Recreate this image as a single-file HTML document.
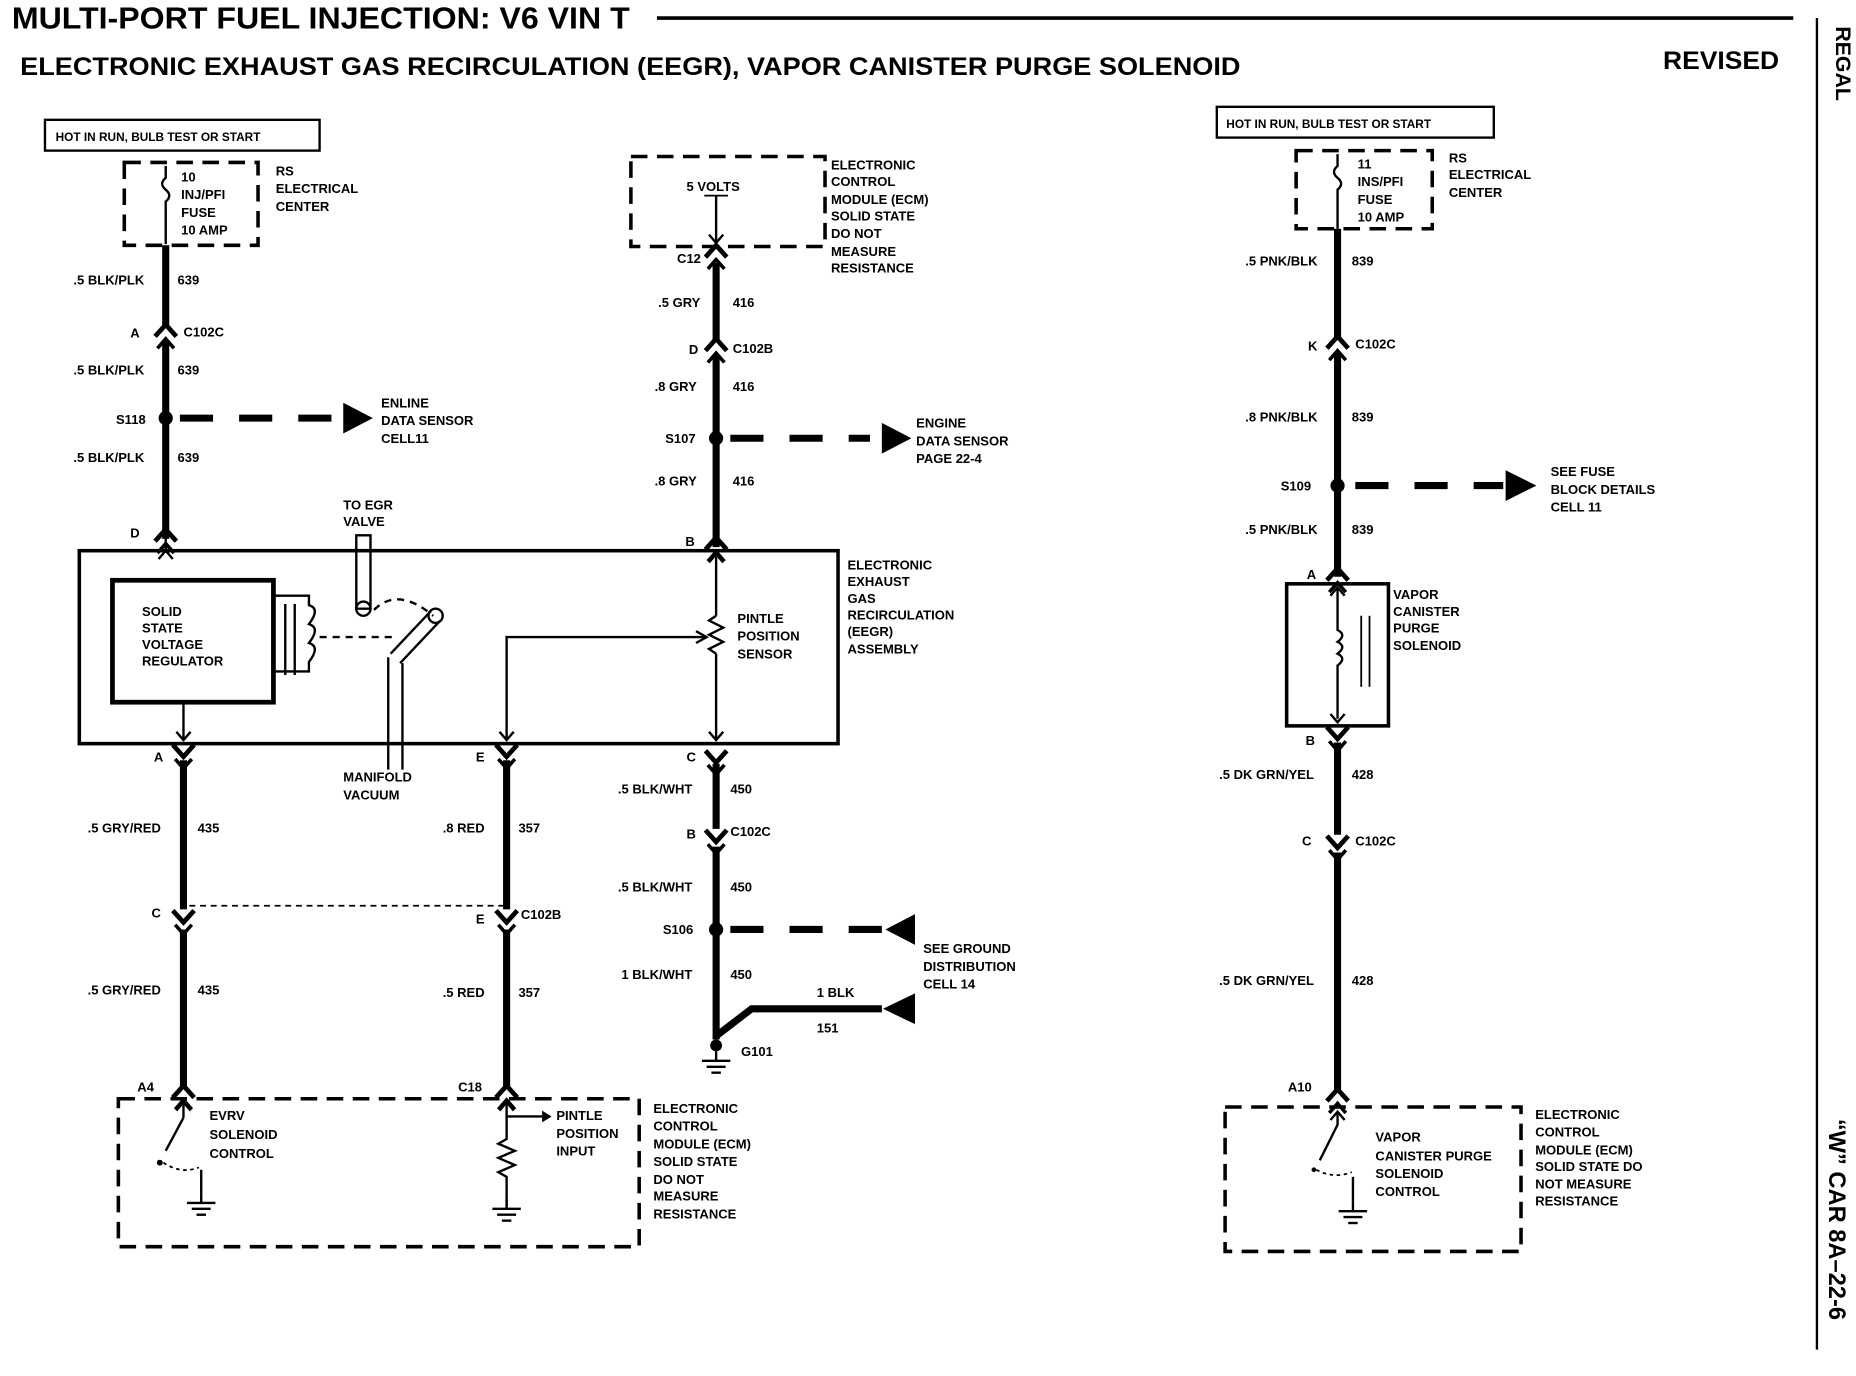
<!DOCTYPE html>
<html><head><meta charset="utf-8"><style>
html,body{margin:0;padding:0;background:#fff;width:1856px;height:1376px;overflow:hidden}
svg text{font-family:"Liberation Sans",sans-serif;font-weight:bold;fill:#000}
.s{font-size:11px}
</style></head><body>
<svg width="1856" height="1376" viewBox="0 0 1568 1162" xmlns="http://www.w3.org/2000/svg">
<defs>
<g id="cn">
<path d="M-9,2 L0,-8 L9,2" fill="none" stroke="#000" stroke-width="4"/>
<path d="M-7,12 L0,4 L7,12" fill="none" stroke="#000" stroke-width="3"/>
</g>
<g id="cd">
<path d="M-9,-6 L0,4 L9,-6" fill="none" stroke="#000" stroke-width="4"/>
<path d="M-7,6 L0,14 L7,6" fill="none" stroke="#000" stroke-width="3"/>
</g>
<g id="gnd"><line x1="0" y1="0" x2="0" y2="8" stroke="#000" stroke-width="2"/><line x1="-12" y1="8" x2="12" y2="8" stroke="#000" stroke-width="2"/><line x1="-8" y1="13" x2="8" y2="13" stroke="#000" stroke-width="2"/><line x1="-4" y1="18" x2="4" y2="18" stroke="#000" stroke-width="2"/></g>
</defs>
<g fill="none" stroke="#000">
<line x1="555" y1="15" x2="1515" y2="15" stroke-width="3"/>
<line x1="1535" y1="15" x2="1535" y2="1140" stroke-width="2"/>
<rect x="38" y="101" width="232" height="26" stroke-width="2"/>
<rect x="105" y="137" width="113" height="70" stroke-width="3" stroke-dasharray="14,8"/>
<path d="M140,140 v10 q-6,5 0,10 q6,5 0,10 v36" stroke-width="2"/>
<line x1="140" y1="207" x2="140" y2="275" stroke-width="6"/>
<line x1="140" y1="288" x2="140" y2="455" stroke-width="6"/>
<line x1="152" y1="353" x2="290" y2="353" stroke-width="6" stroke-dasharray="28,22"/>
<rect x="67" y="465" width="641" height="163" stroke-width="3"/>
<rect x="95" y="490" width="136" height="103" stroke-width="4"/>
<path d="M231,503 h30 v8 q10,3 0,16 q10,3 0,16 q10,3 0,16 v8 h-30" stroke-width="2"/>
<line x1="241" y1="510" x2="241" y2="570" stroke-width="2"/><line x1="249" y1="510" x2="249" y2="570" stroke-width="2"/>
<line x1="270" y1="538" x2="335" y2="538" stroke-width="2" stroke-dasharray="6,5"/>
<path d="M316,515 q20,-20 50,5" stroke-width="2" stroke-dasharray="6,5"/>
<rect x="301" y="452" width="12" height="62" stroke-width="2"/><circle cx="307" cy="514" r="6" stroke-width="2"/>
<path d="M330,552 L364,516 M338,560 L372,524" stroke-width="2"/><circle cx="368" cy="520" r="6" stroke-width="2"/>
<path d="M328,555 v95 M340,560 v90" stroke-width="2"/>
<line x1="140" y1="465" x2="140" y2="445" stroke-width="2"/><path d="M134,472 L140,465 L146,472" stroke-width="2"/>
<line x1="155" y1="593" x2="155" y2="625" stroke-width="2"/><path d="M149,618 L155,625 L161,618" stroke-width="2"/>
<line x1="605" y1="470" x2="605" y2="520" stroke-width="2"/>
<path d="M605,520 l-6,4 l12,6 l-12,6 l12,6 l-12,6 l6,4" stroke-width="2"/>
<line x1="605" y1="552" x2="605" y2="625" stroke-width="2"/><path d="M599,618 L605,625 L611,618" stroke-width="2"/>
<path d="M599,475 L605,468 L611,475" stroke-width="2"/>
<polyline points="428,625 428,538 595,538" stroke-width="2"/><path d="M588,533 L597,538 L588,543" stroke-width="2"/>
<path d="M422,618 L428,625 L434,618" stroke-width="2"/>
<line x1="155" y1="642" x2="155" y2="768" stroke-width="6"/>
<line x1="155" y1="785" x2="155" y2="918" stroke-width="6"/>
<line x1="428" y1="642" x2="428" y2="768" stroke-width="6"/>
<line x1="428" y1="785" x2="428" y2="918" stroke-width="6"/>
<line x1="160" y1="765" x2="428" y2="765" stroke-width="1.5" stroke-dasharray="5,4"/>
<rect x="100" y="928" width="440" height="125" stroke-width="3" stroke-dasharray="14,8"/>
<path d="M155,932 v12 M155,944 L140,972" stroke-width="2"/><path d="M149,938 L155,931 L161,938" stroke-width="2"/>
<circle cx="135" cy="982" r="2" fill="#000"/><path d="M138,982 q15,10 30,4" stroke-width="1.5" stroke-dasharray="3,3"/>
<line x1="170" y1="988" x2="170" y2="1008" stroke-width="2"/>
<path d="M428,932 v30 l-7,4 l14,6 l-14,6 l14,6 l-14,6 l7,4 v25" stroke-width="2"/>
<path d="M422,938 L428,931 L434,938" stroke-width="2"/>
<line x1="428" y1="943" x2="458" y2="943" stroke-width="2"/>
<rect x="533" y="132" width="164" height="76" stroke-width="3" stroke-dasharray="14,8"/>
<line x1="605" y1="165" x2="605" y2="205" stroke-width="2"/><path d="M599,198 L605,205 L611,198" stroke-width="2"/><line x1="595" y1="165" x2="615" y2="165" stroke-width="1.5"/>
<line x1="605" y1="222" x2="605" y2="287" stroke-width="6"/>
<line x1="605" y1="300" x2="605" y2="462" stroke-width="6"/>
<line x1="617" y1="370" x2="735" y2="370" stroke-width="6" stroke-dasharray="28,22"/>
<line x1="605" y1="645" x2="605" y2="700" stroke-width="6"/>
<line x1="605" y1="715" x2="605" y2="878" stroke-width="6"/>
<line x1="617" y1="785" x2="745" y2="785" stroke-width="6" stroke-dasharray="28,22"/>
<polyline points="605,875 635,852 745,852" stroke-width="6"/>
<rect x="1028" y="90" width="234" height="26" stroke-width="2"/>
<rect x="1095" y="127" width="115" height="66" stroke-width="3" stroke-dasharray="14,8"/>
<path d="M1130,130 v10 q-6,5 0,10 q6,5 0,10 v33" stroke-width="2"/>
<line x1="1130" y1="193" x2="1130" y2="285" stroke-width="6"/>
<line x1="1130" y1="298" x2="1130" y2="487" stroke-width="6"/>
<line x1="1145" y1="410" x2="1270" y2="410" stroke-width="6" stroke-dasharray="28,22"/>
<rect x="1087" y="493" width="86" height="120" stroke-width="3"/>
<path d="M1130,497 v35 q8,4 0,10 q8,4 0,10 q8,4 0,10 v45" stroke-width="2"/>
<path d="M1124,503 L1130,496 L1136,503 M1124,603 L1130,610 L1136,603" stroke-width="2"/>
<line x1="1150" y1="520" x2="1150" y2="580" stroke-width="1.5"/><line x1="1157" y1="520" x2="1157" y2="580" stroke-width="1.5"/>
<line x1="1130" y1="627" x2="1130" y2="705" stroke-width="6"/>
<line x1="1130" y1="720" x2="1130" y2="920" stroke-width="6"/>
<rect x="1035" y="935" width="250" height="122" stroke-width="3" stroke-dasharray="14,8"/>
<path d="M1130,940 v10 L1115,980" stroke-width="2"/><path d="M1124,946 L1130,939 L1136,946" stroke-width="2"/>
<path d="M1112,988 q15,8 30,2" stroke-width="1.5" stroke-dasharray="3,3"/><line x1="1143" y1="994" x2="1143" y2="1015" stroke-width="2"/>
</g>
<g fill="#000">
<circle cx="140" cy="353" r="6"/><circle cx="605" cy="370" r="6"/><circle cx="605" cy="785" r="6"/><circle cx="1130" cy="410" r="6"/><circle cx="605" cy="883" r="5"/>
<circle cx="1110" cy="988" r="2"/>
<polygon points="290,340 315,353 290,366"/><polygon points="745,357 770,370 745,383"/>
<polygon points="1272,397 1298,410 1272,423"/>
<polygon points="773,772 748,785 773,798"/><polygon points="773,839 746,852 773,865"/>
<polygon points="458,938 466,943 458,948"/>
</g>
<use href="#cn" x="140" y="282"/><use href="#cn" x="140" y="455"/>
<use href="#cn" x="605" y="215"/><use href="#cn" x="605" y="294"/><use href="#cn" x="605" y="462"/>
<use href="#cd" x="155" y="635"/><use href="#cd" x="155" y="775"/><use href="#cd" x="428" y="635"/><use href="#cd" x="428" y="775"/>
<use href="#cn" x="155" y="925"/><use href="#cn" x="428" y="925"/>
<use href="#cd" x="605" y="640"/><use href="#cd" x="605" y="707"/>
<use href="#cn" x="1130" y="292"/><use href="#cn" x="1130" y="488"/><use href="#cd" x="1130" y="620"/><use href="#cd" x="1130" y="712"/><use href="#cn" x="1130" y="928"/>
<use href="#gnd" x="170" y="1008"/><use href="#gnd" x="428" y="1013"/><use href="#gnd" x="1143" y="1015"/><use href="#gnd" x="605" y="888"/>
<text x="10" y="24" font-size="26" textLength="522" lengthAdjust="spacingAndGlyphs">MULTI-PORT FUEL INJECTION: V6 VIN T</text>
<text x="17" y="63" font-size="21" textLength="1031" lengthAdjust="spacingAndGlyphs">ELECTRONIC EXHAUST GAS RECIRCULATION (EEGR), VAPOR CANISTER PURGE SOLENOID</text>
<text x="1405" y="58" font-size="21" textLength="98" lengthAdjust="spacingAndGlyphs">REVISED</text>
<text transform="translate(1551,22) rotate(90)" font-size="18">REGAL</text>
<text transform="translate(1545,945) rotate(90)" font-size="20">“W” CAR 8A–22-6</text>
<g class="s">
<text x="47" y="119" font-size="10">HOT IN RUN, BULB TEST OR START</text>
<text x="153" y="153">10</text><text x="153" y="168">INJ/PFI</text><text x="153" y="183">FUSE</text><text x="153" y="198">10 AMP</text>
<text x="233" y="148">RS</text><text x="233" y="163">ELECTRICAL</text><text x="233" y="178">CENTER</text>
<text x="62" y="240">.5 BLK/PLK</text><text x="150" y="240">639</text>
<text x="110" y="285">A</text><text x="155" y="284">C102C</text>
<text x="62" y="316">.5 BLK/PLK</text><text x="150" y="316">639</text>
<text x="98" y="358">S118</text>
<text x="322" y="344">ENLINE</text><text x="322" y="359">DATA SENSOR</text><text x="322" y="374">CELL11</text>
<text x="62" y="390">.5 BLK/PLK</text><text x="150" y="390">639</text>
<text x="110" y="454">D</text>
<text x="290" y="430">TO EGR</text><text x="290" y="444">VALVE</text>
<text x="120" y="520">SOLID</text><text x="120" y="534">STATE</text><text x="120" y="548">VOLTAGE</text><text x="120" y="562">REGULATOR</text>
<text x="623" y="526">PINTLE</text><text x="623" y="541">POSITION</text><text x="623" y="556">SENSOR</text>
<text x="716" y="481">ELECTRONIC</text><text x="716" y="495">EXHAUST</text><text x="716" y="509">GAS</text><text x="716" y="523">RECIRCULATION</text><text x="716" y="537">(EEGR)</text><text x="716" y="552">ASSEMBLY</text>
<text x="130" y="643">A</text><text x="402" y="643">E</text>
<text x="290" y="660">MANIFOLD</text><text x="290" y="675">VACUUM</text>
<text x="74" y="703">.5 GRY/RED</text><text x="167" y="703">435</text>
<text x="374" y="703">.8 RED</text><text x="438" y="703">357</text>
<text x="128" y="775">C</text><text x="402" y="780">E</text><text x="440" y="776">C102B</text>
<text x="74" y="840">.5 GRY/RED</text><text x="167" y="840">435</text>
<text x="374" y="842">.5 RED</text><text x="438" y="842">357</text>
<text x="116" y="922">A4</text><text x="387" y="922">C18</text>
<text x="177" y="946">EVRV</text><text x="177" y="962">SOLENOID</text><text x="177" y="978">CONTROL</text>
<text x="470" y="946">PINTLE</text><text x="470" y="961">POSITION</text><text x="470" y="976">INPUT</text>
<text x="552" y="940">ELECTRONIC</text><text x="552" y="955">CONTROL</text><text x="552" y="970">MODULE (ECM)</text><text x="552" y="985">SOLID STATE</text><text x="552" y="1000">DO NOT</text><text x="552" y="1014">MEASURE</text><text x="552" y="1029">RESISTANCE</text>
<text x="580" y="161">5 VOLTS</text>
<text x="702" y="143">ELECTRONIC</text><text x="702" y="157">CONTROL</text><text x="702" y="172">MODULE (ECM)</text><text x="702" y="186">SOLID STATE</text><text x="702" y="201">DO NOT</text><text x="702" y="216">MEASURE</text><text x="702" y="230">RESISTANCE</text>
<text x="572" y="222">C12</text>
<text x="556" y="259">.5 GRY</text><text x="619" y="259">416</text>
<text x="582" y="299">D</text><text x="619" y="298">C102B</text>
<text x="553" y="330">.8 GRY</text><text x="619" y="330">416</text>
<text x="562" y="374">S107</text>
<text x="774" y="361">ENGINE</text><text x="774" y="376">DATA SENSOR</text><text x="774" y="391">PAGE 22-4</text>
<text x="553" y="410">.8 GRY</text><text x="619" y="410">416</text>
<text x="579" y="461">B</text>
<text x="580" y="643">C</text>
<text x="522" y="670">.5 BLK/WHT</text><text x="617" y="670">450</text>
<text x="580" y="708">B</text><text x="617" y="706">C102C</text>
<text x="522" y="753">.5 BLK/WHT</text><text x="617" y="753">450</text>
<text x="560" y="789">S106</text>
<text x="780" y="805">SEE GROUND</text><text x="780" y="820">DISTRIBUTION</text><text x="780" y="835">CELL 14</text>
<text x="525" y="827">1 BLK/WHT</text><text x="617" y="827">450</text>
<text x="690" y="842">1 BLK</text><text x="690" y="872">151</text>
<text x="626" y="892">G101</text>
<text x="1036" y="108" font-size="10">HOT IN RUN, BULB TEST OR START</text>
<text x="1147" y="142">11</text><text x="1147" y="157">INS/PFI</text><text x="1147" y="172">FUSE</text><text x="1147" y="187">10 AMP</text>
<text x="1224" y="137">RS</text><text x="1224" y="151">ELECTRICAL</text><text x="1224" y="166">CENTER</text>
<text x="1052" y="224">.5 PNK/BLK</text><text x="1142" y="224">839</text>
<text x="1105" y="296">K</text><text x="1145" y="294">C102C</text>
<text x="1052" y="356">.8 PNK/BLK</text><text x="1142" y="356">839</text>
<text x="1082" y="414">S109</text>
<text x="1310" y="402">SEE FUSE</text><text x="1310" y="417">BLOCK DETAILS</text><text x="1310" y="432">CELL 11</text>
<text x="1052" y="451">.5 PNK/BLK</text><text x="1142" y="451">839</text>
<text x="1104" y="489">A</text>
<text x="1177" y="506">VAPOR</text><text x="1177" y="520">CANISTER</text><text x="1177" y="534">PURGE</text><text x="1177" y="549">SOLENOID</text>
<text x="1103" y="629">B</text>
<text x="1030" y="658">.5 DK GRN/YEL</text><text x="1142" y="658">428</text>
<text x="1100" y="714">C</text><text x="1145" y="714">C102C</text>
<text x="1030" y="832">.5 DK GRN/YEL</text><text x="1142" y="832">428</text>
<text x="1088" y="922">A10</text>
<text x="1162" y="964">VAPOR</text><text x="1162" y="980">CANISTER PURGE</text><text x="1162" y="995">SOLENOID</text><text x="1162" y="1010">CONTROL</text>
<text x="1297" y="945">ELECTRONIC</text><text x="1297" y="960">CONTROL</text><text x="1297" y="975">MODULE (ECM)</text><text x="1297" y="989">SOLID STATE DO</text><text x="1297" y="1004">NOT MEASURE</text><text x="1297" y="1018">RESISTANCE</text>
</g>
</svg>
</body></html>
